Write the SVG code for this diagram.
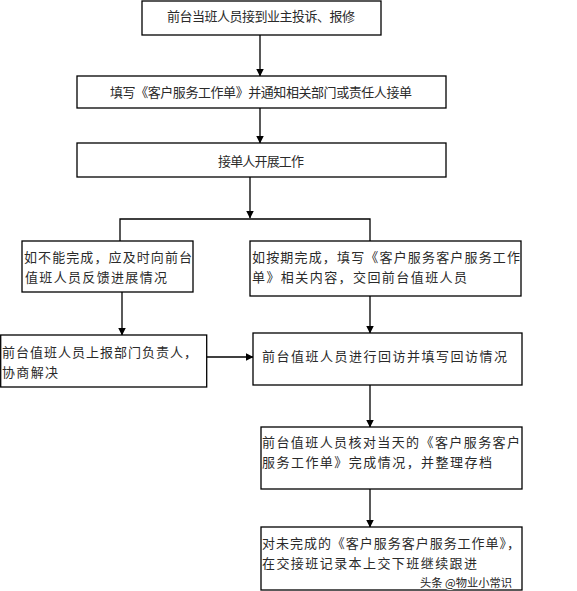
<svg xmlns="http://www.w3.org/2000/svg" width="577" height="591" viewBox="0 0 577 591">
<style>
.box{fill:#fff;stroke:#000;stroke-width:1.3}
.t{font-family:"Noto Sans CJK SC","Noto Sans",sans-serif;font-size:13px;fill:#2a2a2a}
.c{fill:none;stroke:#000;stroke-width:1.3}
.wm{font-family:"Noto Sans CJK SC","Noto Sans",sans-serif;font-size:11px;fill:#222;stroke:#fff;stroke-width:2;paint-order:stroke;stroke-linejoin:round}
</style>
<defs>
<marker id="ah" markerUnits="userSpaceOnUse" markerWidth="8" markerHeight="9" viewBox="0 0 8 9" refX="7.5" refY="4.5" orient="auto">
<path d="M0,0.5 L8,4.5 L0,8.5 Z" fill="#000"/>
</marker>
</defs>
<rect width="577" height="591" fill="#fff"/>
<g id="connectors">
<line class="c" x1="260" y1="35" x2="260" y2="76" marker-end="url(#ah)"/>
<line class="c" x1="260" y1="108" x2="260" y2="143" marker-end="url(#ah)"/>
<line class="c" x1="250" y1="177" x2="250" y2="218" marker-end="url(#ah)"/>
<polyline class="c" points="120,241 120,219 370,219 370,241"/>
<line class="c" x1="122" y1="292" x2="122" y2="335" marker-end="url(#ah)"/>
<line class="c" x1="207" y1="357" x2="253" y2="357" marker-end="url(#ah)"/>
<line class="c" x1="370" y1="296" x2="370" y2="333" marker-end="url(#ah)"/>
<line class="c" x1="370" y1="385" x2="370" y2="427" marker-end="url(#ah)"/>
<line class="c" x1="370" y1="489" x2="370" y2="527" marker-end="url(#ah)"/>
</g>
<g id="n1">
<rect class="box" x="142" y="1" width="239" height="34"/>
<text class="t" x="167" y="21" textLength="188" lengthAdjust="spacing">前台当班人员接到业主投诉、报修</text>
</g>
<g id="n2">
<rect class="box" x="77" y="76" width="369" height="32"/>
<text class="t" x="110" y="96.5" textLength="302" lengthAdjust="spacing">填写《客户服务工作单》并通知相关部门或责任人接单</text>
</g>
<g id="n3">
<rect class="box" x="77" y="143" width="369" height="34"/>
<text class="t" x="218" y="166" textLength="86" lengthAdjust="spacing">接单人开展工作</text>
</g>
<g id="n4">
<rect class="box" x="22" y="241" width="171" height="51"/>
<text class="t" x="24" y="261.7" textLength="168" lengthAdjust="spacing">如不能完成，应及时向前台</text>
<text class="t" x="25" y="282" textLength="142" lengthAdjust="spacing">值班人员反馈进展情况</text>
</g>
<g id="n5">
<rect class="box" x="250" y="241" width="271" height="55"/>
<text class="t" x="252" y="261.7" textLength="268" lengthAdjust="spacing">如按期完成，填写《客户服务客户服务工作</text>
<text class="t" x="252" y="282" textLength="215" lengthAdjust="spacing">单》相关内容，交回前台值班人员</text>
</g>
<g id="n6">
<rect class="box" x="0.7" y="335" width="206" height="52"/>
<text class="t" x="2" y="356.7" textLength="195" lengthAdjust="spacing">前台值班人员上报部门负责人，</text>
<text class="t" x="2" y="376.7" textLength="56" lengthAdjust="spacing">协商解决</text>
</g>
<g id="n7">
<rect class="box" x="253" y="333" width="269" height="52"/>
<text class="t" x="262" y="361" textLength="245" lengthAdjust="spacing">前台值班人员进行回访并填写回访情况</text>
</g>
<g id="n8">
<rect class="box" x="261" y="427" width="261" height="62"/>
<text class="t" x="262" y="446.7" textLength="258" lengthAdjust="spacing">前台值班人员核对当天的《客户服务客户</text>
<text class="t" x="262" y="467" textLength="230" lengthAdjust="spacing">服务工作单》完成情况，并整理存档</text>
</g>
<g id="n9">
<rect class="box" x="261" y="527" width="261" height="63"/>
<text class="t" x="262" y="548" textLength="258" lengthAdjust="spacing">对未完成的《客户服务客户服务工作单》，</text>
<text class="t" x="262" y="567.5" textLength="215" lengthAdjust="spacing">在交接班记录本上交下班继续跟进</text>
</g>
<text class="wm" x="420" y="586.5" textLength="92" lengthAdjust="spacingAndGlyphs">头条 @物业小常识</text>
</svg>
